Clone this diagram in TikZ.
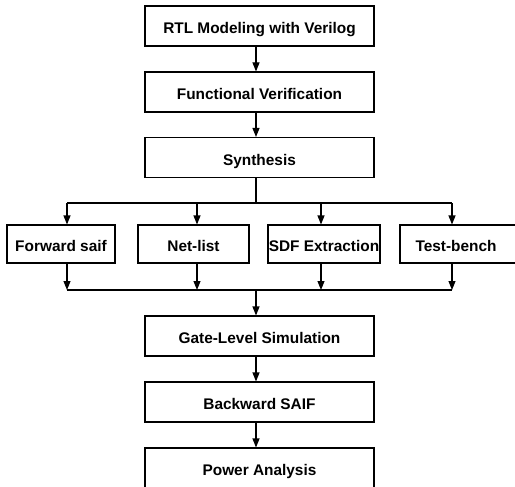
\documentclass[tikz,border=0pt]{standalone}
\usepackage{fontspec}
\setmainfont{Liberation Sans}
\usetikzlibrary{arrows.meta}
\begin{document}
\begin{tikzpicture}[x=1pt,y=-1pt,
  box/.style={draw, line width=1.1pt, rectangle, inner sep=0pt, align=center,
    text height=15pt, text depth=0pt,
    font=\fontsize{15.4}{18}\selectfont\bfseries},
  mainbox/.style={box, minimum width=229pt, minimum height=40pt},
  subbox/.style={box, minimum width=110pt, minimum height=38pt},
  conn/.style={line width=1.1pt},
  arr/.style={conn, -{Triangle[length=9pt,width=7pt]}}]
\useasboundingbox (0,0) rectangle (515,487);
\clip (0,0) rectangle (515,487);
\node[mainbox] (rtl) at (259.5,26) {RTL Modeling with Verilog};
\node[mainbox] (fv) at (259.5,92) {Functional Verification};
\node[mainbox] (syn) at (259.5,157.5) {Synthesis};
\node[subbox, minimum width=108pt] (fw) at (61,244) {Forward saif};
\node[subbox, minimum width=111pt] (nl) at (193.5,244) {Net-list};
\node[subbox, minimum width=112pt] (sdf) at (324,244) {SDF Extraction};
\node[subbox, minimum width=124pt] (tb) at (462,244) {\hspace*{-12pt}Test-bench};
\node[mainbox] (gls) at (259.5,336) {Gate-Level Simulation};
\node[mainbox] (bs) at (259.5,402) {Backward SAIF};
\node[mainbox] (pa) at (259.5,468) {Power Analysis};
% branch points
\coordinate (s) at (256,203);
\coordinate (b1) at (67,203);
\coordinate (b2) at (197,203);
\coordinate (b3) at (321,203);
\coordinate (b4) at (452,203);
\coordinate (m) at (256,290);
\coordinate (m1) at (67,290);
\coordinate (m2) at (197,290);
\coordinate (m3) at (321,290);
\coordinate (m4) at (452,290);
\draw[arr] (rtl.south -| s) -- (fv.north -| s);
\draw[arr] (fv.south -| s) -- (syn.north -| s);
\draw[conn] (syn.south -| s) -- (s);
\draw[conn] (b1) -- (b4);
\draw[arr] (b1) -- (fw.north -| b1);
\draw[arr] (b2) -- (nl.north -| b2);
\draw[arr] (b3) -- (sdf.north -| b3);
\draw[arr] (b4) -- (tb.north -| b4);
\draw[arr] (fw.south -| m1) -- (m1);
\draw[arr] (nl.south -| m2) -- (m2);
\draw[arr] (sdf.south -| m3) -- (m3);
\draw[arr] (tb.south -| m4) -- (m4);
\draw[conn] (m1) -- (m4);
\draw[arr] (m) -- (gls.north -| m);
\draw[arr] (gls.south -| s) -- (bs.north -| s);
\draw[arr] (bs.south -| s) -- (pa.north -| s);
\end{tikzpicture}
\end{document}
